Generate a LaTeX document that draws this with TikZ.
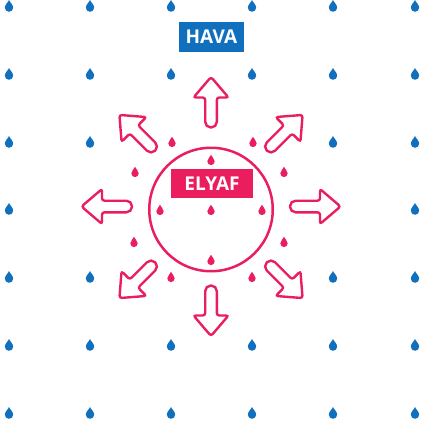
\documentclass[tikz,border=0pt]{standalone}
\usepackage{fontspec}
\setmainfont{Open Sans}
\definecolor{dblue}{RGB}{16,112,190}
\definecolor{dpink}{RGB}{234,30,94}
\begin{document}
\begin{tikzpicture}[x=1pt,y=-1pt,
  drop/.pic={\fill[#1] (0,-6) .. controls (0.8,-3.8) and (4.2,-1.2) .. (4.2,1.6) arc (0:180:4.2) .. controls (-4.2,-1.2) and (-0.8,-3.8) .. (0,-6) -- cycle;},
  sdrop/.pic={\fill[#1] (0,-5.2) .. controls (0.7,-3.3) and (3.7,-1) .. (3.7,1.4) arc (0:180:3.7) .. controls (-3.7,-1) and (-0.7,-3.3) .. (0,-5.2) -- cycle;},
  arr/.style={draw=dpink, fill=white, line width=2.4pt},
  tag/.style={text=white, font=\bfseries\fontsize{19}{19}\selectfont, inner sep=0pt, minimum height=30pt}]
\useasboundingbox (0,0) rectangle (423,428);
% blue drops
\foreach \y in {6,74,345,413}{
  \foreach \x in {9,90,171,252,333,415}{\pic at (\x,\y) {drop=dblue};}}
\foreach \x in {9,90,333,415}{
  \pic at (\x,142) {drop=dblue};
  \pic at (\x,277) {drop=dblue};}
\pic at (9,209) {drop=dblue};
\pic at (415,209) {drop=dblue};
% pink drops outside
\foreach \p in {(172,142),(253,142),(135,172),(284,172),(134,242),(284,242),(171,277),(252,277)}{
  \pic at \p {sdrop=dpink};}
% circle
\node[circle, draw=dpink, line width=2.5pt, minimum size=123.5pt, inner sep=0pt] (fiber) at (211,209.5) {};
% pink drops inside
\foreach \p in {(211,160),(160,210),(211,210),(262,210),(211,260)}{
  \pic at \p {sdrop=dpink};}
% arrows
\foreach \a in {0,45,...,315}{
  \begin{scope}[shift={(211,206.5)}, rotate=\a]
    \draw[arr] (95,-5.8) [rounded corners=2.5pt] -- (109,-5.8) -- (109,-17.5) -- (129.5,0) -- (109,17.5) -- (109,5.8) [rounded corners=5.6pt] -- (79,5.8) -- (79,-5.8) -- cycle;
  \end{scope}}
% labels
\node[tag, fill=dblue, minimum width=65pt] (hava) at (211.5,37) {HAVA};
\node[tag, fill=dpink, minimum width=82pt, minimum height=29pt] (elyaf) at (212,183.5) {ELYAF};
\end{tikzpicture}
\end{document}
